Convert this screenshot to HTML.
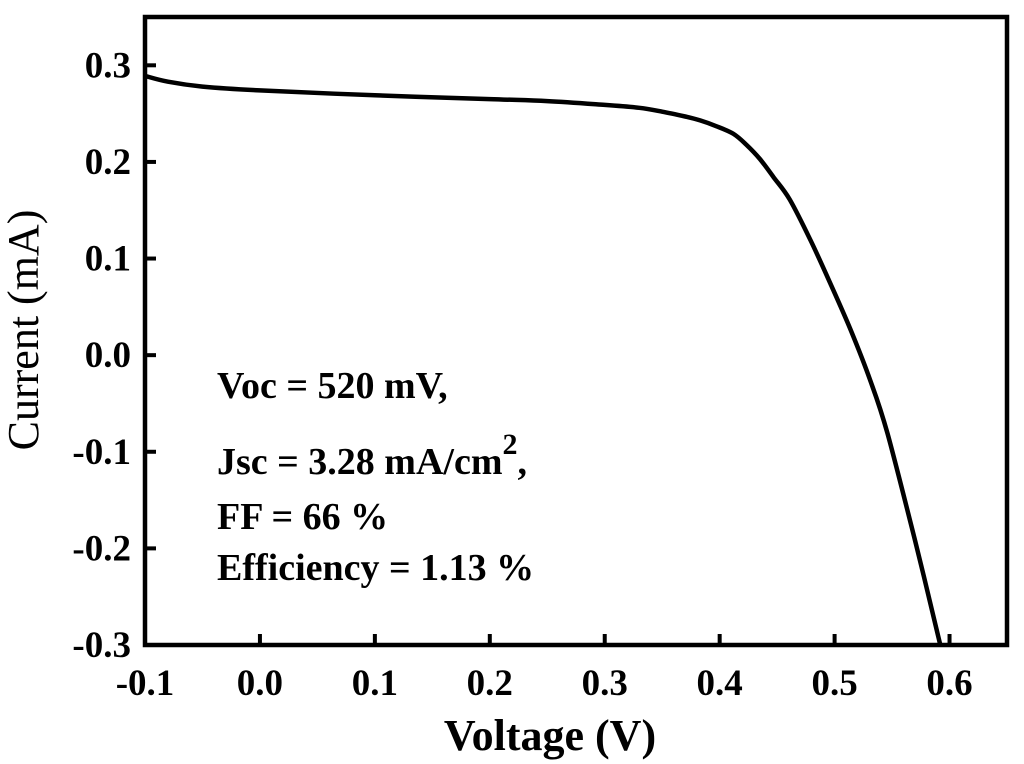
<!DOCTYPE html>
<html><head><meta charset="utf-8"><style>
body{margin:0;background:#fff}
svg{display:block;font-family:"Liberation Serif",serif}
</style></head><body>
<svg width="1024" height="764" id="chart">
<defs><clipPath id="clip"><rect x="145" y="17" width="862" height="628"/></clipPath></defs>
<g id="marks" clip-path="url(#clip)"></g>
<rect x="145" y="17" width="862" height="628" fill="none" stroke="#000" stroke-width="4.5"/>
<g id="axes"></g>
<text x="38" y="330" transform="rotate(-90 38 330)" text-anchor="middle" font-size="44">Current (mA)</text>
<text x="550" y="750" text-anchor="middle" font-size="44" font-weight="bold">Voltage (V)</text>
<g font-size="38" font-weight="bold">
<text x="217" y="398">Voc = 520 mV,</text>
<text x="217" y="474">Jsc = 3.28 mA/cm<tspan dy="-20" font-size="30">2</tspan><tspan dy="20">,</tspan></text>
<text x="217" y="529">FF = 66 %</text>
<text x="217" y="580">Efficiency = 1.13 %</text>
</g>
</svg>
<script>
const voltage=[-0.1,-0.08,-0.05,0,0.1,0.2,0.25,0.3,0.33,0.35,0.37,0.383,0.397,0.412,0.423,0.435,0.447,0.461,0.479,0.496,0.514,0.531,0.546,0.57,0.592,0.6];
const current=[0.289,0.283,0.278,0.274,0.269,0.265,0.263,0.259,0.256,0.252,0.247,0.243,0.237,0.229,0.218,0.203,0.184,0.161,0.119,0.075,0.026,-0.026,-0.081,-0.192,-0.30,-0.34];
const xTicks=[-0.1,0,0.1,0.2,0.3,0.4,0.5,0.6];
const xTickLabels=["-0.1","0.0","0.1","0.2","0.3","0.4","0.5","0.6"];
const yTicks=[0.3,0.2,0.1,0,-0.1,-0.2,-0.3];
const yTickLabels=["0.3","0.2","0.1","0.0","-0.1","-0.2","-0.3"];
const X=v=>145+(v+0.1)/0.75*862;
const Y=v=>645-(v+0.3)/0.65*628;
const NS="http://www.w3.org/2000/svg";
const axes=document.getElementById('axes');
function mk(t,a,p){const e=document.createElementNS(NS,t);for(const k in a)e.setAttribute(k,a[k]);p.appendChild(e);return e;}
xTicks.forEach((v,i)=>{
 const l=mk('line',{x1:X(v),x2:X(v),y1:645,y2:634,stroke:'#000','stroke-width':4},axes);
 
 
 const t=mk('text',{x:X(v),y:695,'text-anchor':'middle','font-size':37,'font-weight':'bold'},axes);
 t.textContent=xTickLabels[i];
 
 
});
yTicks.forEach((v,i)=>{
 const l=mk('line',{x1:145,x2:156,y1:Y(v),y2:Y(v),stroke:'#000','stroke-width':4},axes);
 
 
 const t=mk('text',{x:131,y:Y(v)+12,'text-anchor':'end','font-size':37,'font-weight':'bold'},axes);
 t.textContent=yTickLabels[i];
 
 
});
const pts=voltage.map((v,i)=>[X(v),Y(current[i])]);
let d='M'+pts[0][0].toFixed(1)+','+pts[0][1].toFixed(1);
for(let i=0;i<pts.length-1;i++){
 const p0=pts[Math.max(0,i-1)],p1=pts[i],p2=pts[i+1],p3=pts[Math.min(pts.length-1,i+2)];
 const c1=[p1[0]+(p2[0]-p0[0])/6,p1[1]+(p2[1]-p0[1])/6];
 const c2=[p2[0]-(p3[0]-p1[0])/6,p2[1]-(p3[1]-p1[1])/6];
 d+=' C'+c1.map(n=>n.toFixed(1)).join(',')+' '+c2.map(n=>n.toFixed(1)).join(',')+' '+p2.map(n=>n.toFixed(1)).join(',');
}
const p=mk('path',{d:d,fill:'none',stroke:'#000','stroke-width':4.5,'stroke-linejoin':'round'},document.getElementById('marks'));


</script>
</body></html>
